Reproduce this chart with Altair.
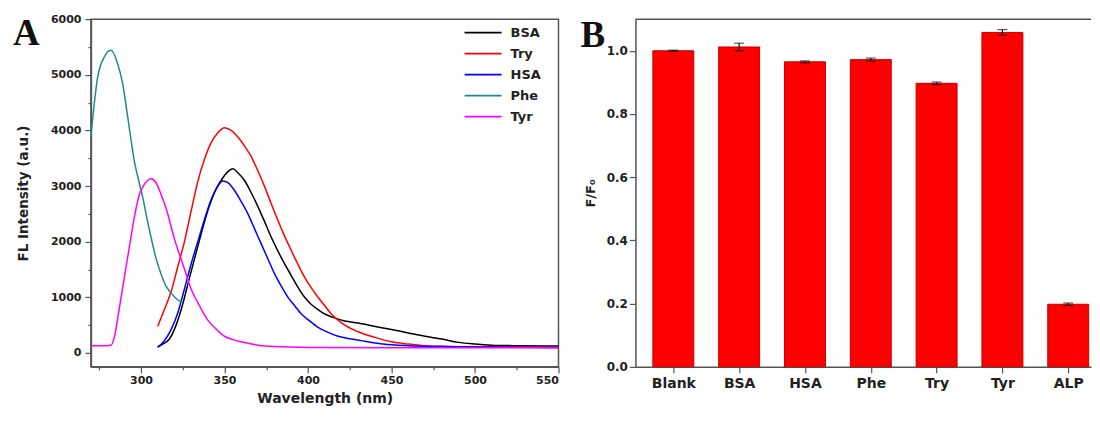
import json
import altair as alt
import pandas as pd

# ---------------- Panel A data (fluorescence spectra) ----------------
series_names = ["BSA", "Try", "HSA", "Phe", "Tyr"]
series_colors = ["#000000", "#FF0000", "#0000FF", "#1E8A8A", "#FF00FF"]

bsa_wl = [310, 313, 317, 321, 325, 329, 333, 337, 341, 345, 349, 352, 355, 358, 362, 366, 370, 374, 378,
          382, 386, 390, 394, 398, 402, 406, 410, 415, 422, 430, 438, 450, 460, 470, 480, 490, 500, 510, 525, 550]
bsa_fl = [110, 160, 250, 500, 880, 1350, 1800, 2250, 2650, 2950, 3150, 3260, 3310, 3240, 3100, 2880, 2630, 2360, 2080,
          1830, 1600, 1390, 1180, 1000, 870, 780, 700, 640, 575, 540, 490, 420, 360, 300, 250, 190, 160, 140, 130, 125]

try_wl = [310, 314, 318, 322, 326, 330, 334, 338, 342, 346, 350, 354, 358, 362, 366, 370, 374, 378, 382,
          386, 390, 394, 398, 402, 406, 410, 414, 420, 430, 440, 450, 460, 470, 480, 500, 520, 550]
try_fl = [480, 780, 1100, 1550, 2000, 2550, 3080, 3480, 3780, 3960, 4050, 4000, 3880, 3720, 3530, 3270, 2990, 2680, 2380,
          2100, 1840, 1590, 1360, 1170, 1000, 850, 700, 540, 380, 280, 200, 160, 130, 120, 110, 105, 100]

hsa_wl = [310, 314, 318, 322, 326, 330, 334, 338, 342, 346, 349, 352, 356, 360, 364, 368, 372, 376, 380,
          384, 388, 392, 396, 400, 406, 412, 418, 426, 434, 445, 460, 480, 500, 550]
hsa_fl = [100, 220, 420, 720, 1150, 1600, 2000, 2400, 2760, 3000, 3090, 3060, 2920, 2720, 2500, 2230, 1960, 1690, 1420,
          1200, 1000, 850, 700, 600, 460, 370, 300, 250, 210, 160, 130, 115, 105, 100]

phe_wl = [270, 274, 278, 282, 286, 289, 292, 296, 299, 301, 304, 306, 309, 312, 315, 318, 321, 325]
phe_fl = [3900, 4950, 5320, 5440, 5200, 4840, 4250, 3450, 3050, 2800, 2350, 2080, 1700, 1420, 1200, 1080, 980, 900]

tyr_wl = [270, 276, 282, 284, 287, 290, 293, 296, 299, 301, 304, 306, 309, 312, 315, 320, 325, 330, 335,
          340, 345, 350, 355, 360, 370, 380, 400, 450, 500, 550]
tyr_fl = [130, 130, 140, 280, 800, 1360, 1900, 2440, 2850, 2980, 3100, 3130, 3060, 2850, 2600, 2050, 1600, 1150, 850,
          590, 430, 300, 240, 200, 140, 115, 100, 95, 95, 95]

# ---------------- Panel B data (F/F0 bars) ----------------
categories = ["Blank", "BSA", "HSA", "Phe", "Try", "Tyr", "ALP"]
ratio = [1.000, 1.012, 0.965, 0.972, 0.897, 1.058, 0.198]
ratio_err = [0.002, 0.012, 0.003, 0.005, 0.004, 0.009, 0.004]

# ---------------- Build tables ----------------
rows = []
for name, wl, fl in [("BSA", bsa_wl, bsa_fl), ("Try", try_wl, try_fl), ("HSA", hsa_wl, hsa_fl),
                     ("Phe", phe_wl, phe_fl), ("Tyr", tyr_wl, tyr_fl)]:
    for w, f in zip(wl, fl):
        rows.append({"wl": w, "fl": f, "series": name})
spec_df = pd.DataFrame(rows)

bar_df = pd.DataFrame({
    "idx": list(range(1, len(categories) + 1)),
    "cat": categories,
    "val": ratio,
    "lo": [v - e for v, e in zip(ratio, ratio_err)],
    "hi": [v + e for v, e in zip(ratio, ratio_err)],
})

FONT = "DejaVu Sans"
TXT = "#222222"
AX = "#555555"

WA, HA = 468, 348
WB, HB = 456, 348

# ---------------- Panel A ----------------
xA = alt.X("wl:Q", scale=alt.Scale(domain=[270, 550], nice=False, zero=False),
           axis=alt.Axis(title="Wavelength (nm)", values=list(range(275, 551, 25)),
                         labelExpr="datum.value % 50 === 0 ? datum.label : ''", format="d",
                         tickSize={"condition": {"test": "datum.value % 50 === 0", "value": 6}, "value": 3},
                         labelFontSize=11, labelPadding=2, titleFontSize=14, titlePadding=6))
yA = alt.Y("fl:Q", scale=alt.Scale(domain=[-250, 6000], nice=False, zero=False),
           axis=alt.Axis(title="FL Intensity (a.u.)", values=list(range(0, 6001, 500)),
                         labelExpr="datum.value % 1000 === 0 ? datum.label : ''", format="d",
                         tickSize={"condition": {"test": "datum.value % 1000 === 0", "value": 6}, "value": 3},
                         labelFontSize=11, labelPadding=4, titleFontSize=13.5, titlePadding=20))

lines = alt.Chart(spec_df).mark_line(strokeWidth=1.5, interpolate="monotone").encode(
    x=xA, y=yA,
    color=alt.Color("series:N", scale=alt.Scale(domain=series_names, range=series_colors),
                    legend=alt.Legend(orient="none", legendX=373, legendY=3, title=None,
                                      symbolType="stroke", symbolSize=1369, symbolStrokeWidth=1.6,
                                      clipHeight=21, rowPadding=0, padding=0,
                                      labelFont=FONT, labelFontWeight="bold", labelFontSize=13,
                                      labelColor=TXT, labelOffset=8)),
    order=alt.Order("wl:Q"),
)

labA = alt.Chart(pd.DataFrame({"t": ["A"]})).mark_text(
    font="Liberation Serif", fontWeight="bold", fontSize=37, align="left", baseline="alphabetic", color="#111"
).encode(x=alt.value(-78), y=alt.value(26), text="t:N")

panelA = alt.layer(lines, labA).properties(
    width=WA, height=HA, view=alt.ViewBackground(stroke=AX, strokeWidth=1.5)
)

# ---------------- Panel B ----------------
label_arr = json.dumps(categories).replace('"', "'")
xB = alt.X("idx:Q", scale=alt.Scale(domain=[0.5, 7.27], nice=False, zero=False),
           axis=alt.Axis(title=None, values=[i / 2 for i in range(2, 15)],
                         labelExpr=f"datum.value % 1 === 0 ? {label_arr}[datum.value - 1] : ''",
                         tickSize={"condition": {"test": "datum.value % 1 === 0", "value": 6}, "value": 3},
                         labelFontSize=14, labelPadding=4))
yB_axis = alt.Axis(title="F/F\u2080", values=[round(i / 10, 1) for i in range(0, 12)], format=".1f",
                   labelExpr="round(datum.value * 10) % 2 === 0 ? datum.label : ''",
                   tickSize={"condition": {"test": "round(datum.value * 10) % 2 === 0", "value": 6}, "value": 3},
                   labelFontSize=12, labelPadding=2, titleFontSize=13, titlePadding=9)
yB_scale = alt.Scale(domain=[0, 1.1], nice=False, zero=True)

bars = alt.Chart(bar_df).mark_bar(size=41, color="#FF0000", stroke="#C00000", strokeWidth=1).encode(
    x=xB, y=alt.Y("val:Q", scale=yB_scale, axis=yB_axis)
)
err = alt.Chart(bar_df).mark_rule(color="#111", strokeWidth=1.2).encode(
    x="idx:Q", y="lo:Q", y2="hi:Q"
)
cap_hi = alt.Chart(bar_df).mark_tick(color="#111", thickness=1.2, size=10, orient="horizontal").encode(
    x="idx:Q", y="hi:Q"
)
cap_lo = alt.Chart(bar_df).mark_tick(color="#111", thickness=1.2, size=10, orient="horizontal").encode(
    x="idx:Q", y="lo:Q"
)
topline = alt.Chart(pd.DataFrame({"t": [0]})).mark_rule(color=AX, strokeWidth=1.5).encode(
    x=alt.value(0), x2=alt.value(WB), y=alt.value(0)
)
labB = alt.Chart(pd.DataFrame({"t": ["B"]})).mark_text(
    font="Liberation Serif", fontWeight="bold", fontSize=37, align="left", baseline="alphabetic", color="#111"
).encode(x=alt.value(-55), y=alt.value(28), text="t:N")

panelB = alt.layer(bars, err, cap_hi, cap_lo, topline, labB).properties(
    width=WB, height=HB, view=alt.ViewBackground(stroke=None)
)

chart = alt.hconcat(panelA, panelB, spacing=18).configure(
    padding={"left": 4, "top": 4, "right": 0, "bottom": 0},
    font=FONT,
    background="white",
).configure_axis(
    grid=False, domainColor=AX, domainWidth=1.5, tickColor=AX, tickWidth=1.2,
    labelFont=FONT, labelFontWeight="bold", labelColor=TXT,
    titleFont=FONT, titleFontWeight="bold", titleColor=TXT,
)

chart.save("out.html", embed_options={"renderer": "svg", "actions": False})
